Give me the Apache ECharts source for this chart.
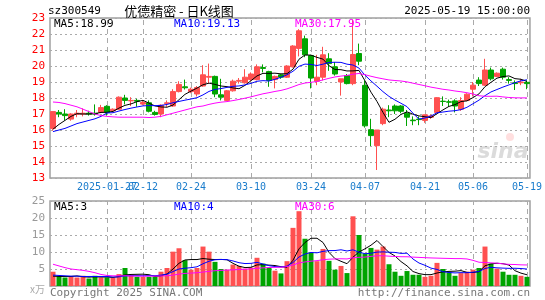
<!DOCTYPE html>
<html><head><meta charset="utf-8">
<script src="https://cdn.jsdelivr.net/npm/echarts@6/dist/echarts.min.js"></script>
<style>html,body{margin:0;padding:0;background:#fff;}#c{width:545px;height:300px;}</style>
</head><body><div id="c"></div>
<script>
const categories = [
'2025-01-14','2025-01-15','2025-01-16','2025-01-17','2025-01-20','2025-01-21','2025-01-22','2025-01-23','2025-01-24','2025-01-27',
'2025-02-05','2025-02-06','2025-02-07','2025-02-10','2025-02-11','2025-02-12','2025-02-13','2025-02-14','2025-02-17','2025-02-18',
'2025-02-19','2025-02-20','2025-02-21','2025-02-24','2025-02-25','2025-02-26','2025-02-27','2025-02-28','2025-03-03','2025-03-04',
'2025-03-05','2025-03-06','2025-03-07','2025-03-10','2025-03-11','2025-03-12','2025-03-13','2025-03-14','2025-03-17','2025-03-18',
'2025-03-19','2025-03-20','2025-03-21','2025-03-24','2025-03-25','2025-03-26','2025-03-27','2025-03-28','2025-03-31','2025-04-01',
'2025-04-02','2025-04-03','2025-04-07','2025-04-08','2025-04-09','2025-04-10','2025-04-11','2025-04-14','2025-04-15','2025-04-16',
'2025-04-17','2025-04-18','2025-04-21','2025-04-22','2025-04-23','2025-04-24','2025-04-25','2025-04-28','2025-04-29','2025-04-30',
'2025-05-06','2025-05-07','2025-05-08','2025-05-09','2025-05-12','2025-05-13','2025-05-14','2025-05-15','2025-05-16','2025-05-19'];

// [open, close, low, high]
const ohlc = [
[16.10,17.15,15.95,17.15],[17.10,17.00,16.80,17.25],[17.00,16.90,16.60,17.30],[16.68,17.00,16.58,17.05],[16.98,17.05,16.80,17.25],
[17.00,17.05,16.85,17.35],[17.05,17.00,16.90,17.20],[17.05,17.00,16.90,17.60],[17.10,17.40,17.05,17.57],[17.48,17.10,16.90,17.55],
[17.20,17.30,17.10,17.35],[17.30,18.05,17.25,18.10],[18.00,17.85,17.60,18.20],[17.82,17.85,17.50,18.05],[17.85,17.80,17.45,17.95],
[17.62,17.72,17.55,17.85],[17.70,17.17,17.10,17.85],[17.10,16.97,16.90,17.20],[17.00,17.55,16.80,17.60],[17.65,17.70,17.45,17.85],
[17.50,18.40,17.45,18.55],[18.40,18.85,18.35,19.05],[18.70,18.64,18.53,19.15],[18.40,18.55,18.30,18.65],[18.25,18.65,18.10,18.75],
[18.75,19.45,18.70,20.05],[19.30,19.35,18.90,20.15],[19.35,18.25,18.05,19.40],[18.20,18.05,17.85,19.20],[17.85,18.45,17.80,18.50],
[18.45,19.05,18.40,19.15],[19.05,19.10,18.90,19.25],[18.95,19.30,18.90,19.80],[19.15,19.50,19.05,19.60],[19.15,19.95,19.10,20.10],
[19.90,19.85,19.60,20.10],[19.65,19.10,18.70,19.70],[19.15,19.35,18.60,19.40],[19.45,19.30,19.20,19.50],[19.30,20.00,19.25,20.05],
[19.95,21.25,19.90,21.30],[21.10,22.20,20.60,22.30],[21.70,20.70,20.55,21.90],[20.65,19.25,18.60,20.70],[19.05,19.30,18.80,20.70],
[19.30,20.70,19.10,21.20],[20.45,20.15,19.70,20.80],[19.95,19.50,19.40,20.25],[19.00,19.20,18.15,19.20],[19.40,18.90,18.85,19.50],
[18.90,20.72,18.80,22.90],[20.78,20.30,20.05,21.40],[18.79,16.26,16.15,19.10],[16.02,15.65,15.00,16.70],[15.02,16.00,13.50,16.00],
[16.40,17.30,16.30,17.40],[17.25,17.20,16.80,17.55],[17.50,17.20,17.00,17.60],[17.50,17.17,17.05,17.55],[17.05,16.80,16.25,17.25],
[16.62,16.58,16.30,16.85],[16.68,16.65,16.30,16.85],[16.60,16.95,16.45,16.96],[16.80,16.88,16.70,16.96],[17.10,18.02,17.05,18.05],
[17.80,17.78,17.50,18.10],[17.76,17.74,17.45,17.90],[17.82,17.50,17.10,17.92],[17.30,17.84,17.20,18.05],[17.84,18.24,17.80,18.30],
[18.55,18.80,18.10,19.00],[19.12,18.90,18.75,19.30],[18.80,19.75,18.75,20.45],[19.75,19.20,19.10,19.90],[19.35,19.55,19.30,19.60],
[19.80,19.30,19.15,19.90],[19.15,19.10,18.90,19.30],[18.95,18.90,18.50,19.10],[18.95,19.00,18.80,19.20],[18.98,18.90,18.55,19.10]];

// volume (万手)
const volumes = [
4.2,2.8,2.5,2.8,2.5,3.0,2.2,3.0,2.5,2.5,
2.5,3.5,5.3,3.2,2.7,2.7,2.7,2.7,4.2,5.3,
10.1,11.1,7.6,4.8,5.3,11.6,10.1,7.1,5.0,4.8,
6.3,5.9,5.1,5.4,8.3,6.6,5.3,4.5,3.7,7.3,
17.1,22.0,13.9,9.9,7.3,10.9,7.4,4.8,5.9,3.8,
20.5,15.0,9.5,11.2,10.7,11.6,6.4,4.2,3.0,4.4,
3.3,3.3,2.7,3.0,6.8,5.0,4.0,3.0,3.8,4.2,
4.8,5.3,11.6,6.6,5.1,4.2,3.3,3.3,3.0,2.7];

const ma5Early = [16.05,16.35,16.6,16.85];
const ma10Early = [15.9,16.0,16.1,16.25,16.4,16.5,16.6,16.7,16.85];
const ma30Early = [17.75,17.72,17.65,17.55,17.45,17.3,17.15,17.0,16.9,16.85,16.82,16.8,16.8,16.8,16.8,16.8,16.78,16.8,16.85,16.95,17.05,17.15,17.25,17.35,17.45,17.5,17.6,17.68,17.74];
const vma5Early = [2.9,2.8,2.8,2.8];
const vma10Early = [3.2,3.1,3.0,2.9,2.9,2.8,2.8,2.8,2.8];
const vma30Early = [6.4,5.9,5.4,5.0,4.8,4.6,4.3,3.9,3.4,3.1,3.0,3.0,3.0,2.95,2.9,2.9,2.9,2.9,2.95,3.0,3.2,3.5,3.7,3.8,3.9,4.1,4.3,4.5,4.6];

const labelDates = ['2025-01-27','2025-02-12','2025-02-24','2025-03-10','2025-03-24','2025-04-07','2025-04-21','2025-05-06','2025-05-19'];
const labelTexts = ['2025-01-27','02-12','02-24','03-10','03-24','04-07','04-21','05-06','05-19'];

const priceTicks = [13,14,15,16,17,18,19,20,21,22,23];
const volTicks = [0,5,10,15,20,25];

const headerCode = 'sz300549';
const headerTitle = '优德精密 - 日K线图';
const headerTime = '2025-05-19 15:00:00';
const maText = ['MA5:18.99','MA10:19.13','MA30:17.95'];
const vmaText = ['MA5:3','MA10:4','MA30:6'];

function ma(vals, n, early) {
  return vals.map((v, i) => {
    if (i < n - 1) return early[i];
    let s = 0; for (let j = i - n + 1; j <= i; j++) s += vals[j];
    return +(s / n).toFixed(3);
  });
}
const closes = ohlc.map(d => d[1]);
const ma5 = ma(closes, 5, ma5Early), ma10 = ma(closes, 10, ma10Early), ma30 = ma(closes, 30, ma30Early);
const vma5 = ma(volumes, 5, vma5Early), vma10 = ma(volumes, 10, vma10Early), vma30 = ma(volumes, 30, vma30Early);

const UP = '#ff5050', DOWN = '#00a400';
const MONO = '"DejaVu Sans Mono", monospace';
const labelMap = {}; labelDates.forEach((d, i) => labelMap[d] = labelTexts[i]);
const firstLabel = labelDates[0];
const vLines = labelDates.map(d => ({xAxis: d}));
const markV = {silent: true, symbol: 'none', z: 1, label: {show: false},
  lineStyle: {type: [5, 4], color: '#aaaaaa', width: 1}, emphasis: {disabled: true}, data: vLines};
const xLabelStyle = {color: '#1a7ccc', fontFamily: MONO, fontSize: 10, margin: 4, hideOverlap: false};

const chart = echarts.init(document.getElementById('c'), null, {renderer: 'canvas'});
const lineS = (name, data, color, xi, yi) => ({type: 'line', name, data, xAxisIndex: xi, yAxisIndex: yi,
  symbol: 'none', lineStyle: {color, width: 1}, itemStyle: {color}, z: 3, silent: true, animation: false});

chart.setOption({
  animation: false,
  grid: [
    {left: 50, right: 15, top: 18, height: 160, show: true, borderColor: '#a0a0a0', borderWidth: 1.5, backgroundColor: 'transparent'},
    {left: 50, right: 15, top: 201, height: 85, show: true, borderColor: '#a0a0a0', borderWidth: 1.5, backgroundColor: 'transparent'}
  ],
  xAxis: [
    {type: 'category', data: categories, gridIndex: 0, boundaryGap: true,
     axisLine: {show: false}, axisTick: {show: false}, splitLine: {show: false},
     axisLabel: Object.assign({interval: (i, v) => labelMap[v] !== undefined && v !== firstLabel, formatter: v => labelMap[v] || ''}, xLabelStyle)},
    {type: 'category', data: categories, gridIndex: 1, boundaryGap: true,
     axisLine: {show: false}, axisTick: {show: false}, splitLine: {show: false}, axisLabel: {show: false}},
    {type: 'category', data: categories, gridIndex: 0, boundaryGap: true, position: 'bottom',
     axisLine: {show: false}, axisTick: {show: false}, splitLine: {show: false},
     axisLabel: Object.assign({interval: (i, v) => v === firstLabel, formatter: v => labelMap[v] || ''}, xLabelStyle)}
  ],
  yAxis: [
    {type: 'value', gridIndex: 0, min: priceTicks[0], max: priceTicks[priceTicks.length - 1], interval: 1,
     axisLine: {show: false}, axisTick: {show: false},
     splitLine: {show: true, lineStyle: {type: [2, 3], color: '#aaaaaa', width: 1}},
     axisLabel: {color: '#ff0000', fontFamily: MONO, fontSize: 11, margin: 5}},
    {type: 'value', gridIndex: 1, min: volTicks[0], max: volTicks[volTicks.length - 1], interval: 5,
     axisLine: {show: false}, axisTick: {show: false},
     splitLine: {show: true, lineStyle: {type: [2, 3], color: '#aaaaaa', width: 1}},
     axisLabel: {color: '#999999', fontFamily: MONO, fontSize: 11, margin: 5, formatter: v => v === 0 ? '' : String(v)}}
  ],
  series: [
    {type: 'candlestick', data: ohlc, xAxisIndex: 0, yAxisIndex: 0, barWidth: 5, z: 2, silent: true,
     itemStyle: {color: UP, color0: DOWN, borderColor: UP, borderColor0: DOWN, borderWidth: 1},
     markLine: markV},
    lineS('MA5', ma5, '#000000', 0, 0),
    lineS('MA10', ma10, '#0000ff', 0, 0),
    lineS('MA30', ma30, '#ff00ff', 0, 0),
    Object.assign(lineS('MA30b', ma30, 'rgba(0,0,0,0)', 2, 0), {lineStyle: {opacity: 0}}),
    {type: 'bar', data: volumes.map((v, i) => ({value: v, itemStyle: {color: ohlc[i][1] >= ohlc[i][0] ? UP : DOWN}})),
     xAxisIndex: 1, yAxisIndex: 1, barWidth: 5, z: 2, silent: true, markLine: markV},
    lineS('VMA5', vma5, '#000000', 1, 1),
    lineS('VMA10', vma10, '#0000ff', 1, 1),
    lineS('VMA30', vma30, '#ff00ff', 1, 1)
  ],
  graphic: [
    {type: 'text', x: 48, y: 11, style: {text: headerCode, font: '11px ' + MONO, fill: '#000', textVerticalAlign: 'middle'}},
    {type: 'text', x: 179, y: 11, style: {text: headerTitle, font: '13px "Noto Sans CJK SC"', fill: '#000', textAlign: 'center', textVerticalAlign: 'middle'}},
    {type: 'text', x: 530, y: 11, style: {text: headerTime, font: '11px ' + MONO, fill: '#000', textAlign: 'right', textVerticalAlign: 'middle'}},
    {type: 'text', x: 54, y: 24, z: 10, style: {text: maText[0], font: '11px ' + MONO, fill: '#000', textVerticalAlign: 'middle'}},
    {type: 'text', x: 174, y: 24, z: 10, style: {text: maText[1], font: '11px ' + MONO, fill: '#0000ff', textVerticalAlign: 'middle'}},
    {type: 'text', x: 295, y: 24, z: 10, style: {text: maText[2], font: '11px ' + MONO, fill: '#ff00ff', textVerticalAlign: 'middle'}},
    {type: 'text', x: 54, y: 207, z: 10, style: {text: vmaText[0], font: '11px ' + MONO, fill: '#000', textVerticalAlign: 'middle'}},
    {type: 'text', x: 174, y: 207, z: 10, style: {text: vmaText[1], font: '11px ' + MONO, fill: '#0000ff', textVerticalAlign: 'middle'}},
    {type: 'text', x: 295, y: 207, z: 10, style: {text: vmaText[2], font: '11px ' + MONO, fill: '#ff00ff', textVerticalAlign: 'middle'}},
    {type: 'text', x: 45, y: 289, style: {text: 'x万', font: '10px "Noto Sans CJK SC"', fill: '#aaaaaa', textAlign: 'right', textVerticalAlign: 'middle'}},
    {type: 'text', x: 50, y: 293, style: {text: 'Copyright 2025 SINA.COM', font: '11px ' + MONO, fill: '#777', textVerticalAlign: 'middle'}},
    {type: 'text', x: 530, y: 293, style: {text: 'http://finance.sina.com.cn', font: '11px ' + MONO, fill: '#777', textAlign: 'right', textVerticalAlign: 'middle'}},
    {type: 'text', x: 503, y: 152, z: 0, style: {text: 'sina', font: 'italic bold 22px "DejaVu Sans"', fill: 'rgba(190,190,190,0.55)', textAlign: 'center', textVerticalAlign: 'middle'}},
    {type: 'circle', shape: {cx: 510, cy: 137, r: 4}, z: 0, style: {fill: 'rgba(255,150,150,0.3)'}}
  ]
});
</script></body></html>
